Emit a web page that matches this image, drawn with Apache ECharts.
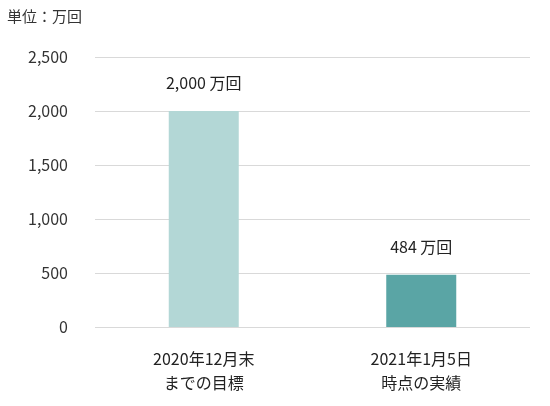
<!DOCTYPE html>
<html><head><meta charset="utf-8">
<script src="https://cdn.jsdelivr.net/npm/echarts@6/dist/echarts.min.js"></script>
<style>html,body{margin:0;padding:0;background:#fff}#c{width:550px;height:406px}</style>
</head><body><div id="c"></div>
<script>
const categories = ['2020年12月末\nまでの目標', '2021年1月5日\n時点の実績'];
const values = [2000, 484];
const barLabels = ['2,000 万回', '484 万回'];
const colors = ['#b3d7d6', '#5aa5a5'];
const font = '"Noto Sans CJK JP", sans-serif';
const chart = echarts.init(document.getElementById('c'));
chart.setOption({
  animation: false,
  title: { text: '単位：万回', left: 2, top: 4, textStyle: { fontSize: 15, fontWeight: 'normal', color: '#333', fontFamily: font } },
  grid: { left: 95, right: 20, top: 57, bottom: 79 },
  xAxis: { type: 'category', data: categories,
    axisLine: { show: false }, axisTick: { show: false },
    axisLabel: { color: '#222', fontSize: 16, lineHeight: 24, margin: 20, fontFamily: font } },
  yAxis: { type: 'value', min: 0, max: 2500, interval: 500,
    axisLabel: { color: '#333', fontSize: 16, margin: 27, fontFamily: font, formatter: v => v.toLocaleString('en-US') },
    splitLine: { lineStyle: { color: '#d9d9d9' } } },
  series: [{ type: 'bar', barWidth: 70,
    data: values.map((v, i) => ({ value: v, itemStyle: { color: colors[i] } })),
    label: { show: true, position: 'top', distance: 20, color: '#222', fontSize: 16, fontFamily: font,
      formatter: p => barLabels[p.dataIndex] } }]
});
</script></body></html>
